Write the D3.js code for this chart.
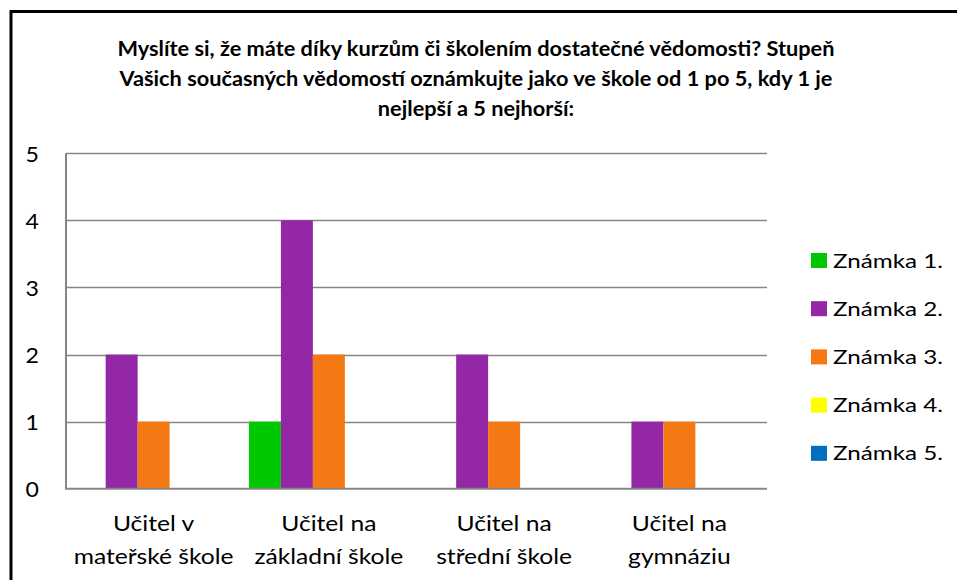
<!DOCTYPE html>
<html>
<head>
<meta charset="utf-8">
<script src="https://cdn.jsdelivr.net/npm/d3@7"></script>
<style>
  html, body { margin: 0; padding: 0; background: #fff; }
  svg { display: block; }
  text { font-family: Lato, "Open Sans", sans-serif; fill: #000; }
</style>
</head>
<body>
<svg id="chart" width="957" height="580"></svg>
<script>
// ---- data ----
const titleLines = [
  "Myslíte si, že máte díky kurzům či školením dostatečné vědomosti? Stupeň",
  "Vašich současných vědomostí oznámkujte jako ve škole od 1 po 5, kdy 1 je",
  "nejlepší a 5 nejhorší:"
];
const categories = [
  ["Učitel v", "mateřské škole"],
  ["Učitel na", "základní škole"],
  ["Učitel na", "střední škole"],
  ["Učitel na", "gymnáziu"]
];
const seriesNames = ["Známka 1.", "Známka 2.", "Známka 3.", "Známka 4.", "Známka 5."];
const znamka1 = [0, 1, 0, 0];
const znamka2 = [2, 4, 2, 1];
const znamka3 = [1, 2, 1, 1];
const znamka4 = [0, 0, 0, 0];
const znamka5 = [0, 0, 0, 0];
const seriesValues = [znamka1, znamka2, znamka3, znamka4, znamka5];
const seriesColors = ["#00C800", "#9427A6", "#F47915", "#FFFF00", "#0070C0"];
const yTicks = [0, 1, 2, 3, 4, 5];

// ---- layout ----
const svg = d3.select("#chart");
const plot = { left: 66, right: 767, top: 153.3, bottom: 488.7 };

// stretch helper: widen text horizontally to mimic the reference rendering
function stretch(sel, k) {
  sel.each(function () {
    const len = this.getComputedTextLength();
    d3.select(this).attr("textLength", len * k).attr("lengthAdjust", "spacingAndGlyphs");
  });
}

// frame
svg.append("path")
  .attr("d", "M11,580 V11.5 H957")
  .attr("fill", "none").attr("stroke", "#000").attr("stroke-width", 3);

// title
const title = svg.append("g").attr("class", "title");
title.selectAll("text").data(titleLines).join("text")
  .attr("x", 476).attr("y", (d, i) => 56 + i * 30)
  .attr("text-anchor", "middle")
  .attr("font-weight", "bold").attr("font-size", 20)
  .text(d => d);
{
  const first = title.select("text").node().getComputedTextLength();
  stretch(title.selectAll("text"), 717 / first);
}

// scales
const x = d3.scaleBand().domain(d3.range(categories.length))
  .range([plot.left, plot.right]).paddingInner(0).paddingOuter(0);
const xs = d3.scaleBand().domain(d3.range(seriesNames.length))
  .range([0, x.bandwidth()]).paddingInner(0).paddingOuter(0.24);
const y = d3.scaleLinear().domain([0, 5]).range([plot.bottom, plot.top]);

// gridlines
svg.append("g").selectAll("line").data(yTicks.filter(t => t > 0)).join("line")
  .attr("x1", plot.left).attr("x2", plot.right)
  .attr("y1", d => Math.round(y(d)) + 0.5).attr("y2", d => Math.round(y(d)) + 0.5)
  .attr("stroke", "#868686").attr("stroke-width", 1.5);

// bars
const groups = svg.append("g").selectAll("g").data(seriesValues).join("g")
  .attr("fill", (d, i) => seriesColors[i]);
groups.each(function (vals, si) {
  d3.select(this).selectAll("rect").data(vals).join("rect")
    .attr("x", (d, ci) => x(ci) + xs(si))
    .attr("width", xs.bandwidth())
    .attr("y", d => y(d))
    .attr("height", d => y(0) - y(d));
});

// axes lines
svg.append("line")
  .attr("x1", plot.left).attr("x2", plot.left)
  .attr("y1", plot.top).attr("y2", plot.bottom)
  .attr("stroke", "#868686").attr("stroke-width", 2);
svg.append("line")
  .attr("x1", plot.left - 1).attr("x2", plot.right)
  .attr("y1", y(0)).attr("y2", y(0))
  .attr("stroke", "#868686").attr("stroke-width", 2);

// y tick labels
const yl = svg.append("g").selectAll("text").data(yTicks).join("text")
  .attr("x", 39).attr("y", d => y(d) + 8.5)
  .attr("text-anchor", "end").attr("font-size", 21)
  .text(d => d);
stretch(yl, 1.1);

// category labels
const cat = svg.append("g").selectAll("g").data(categories).join("g");
cat.selectAll("text").data(d => d).join("text")
  .attr("x", function () { const ci = categories.indexOf(d3.select(this.parentNode).datum()); return x(ci) + x.bandwidth() / 2; })
  .attr("y", (d, i) => 531 + i * 33)
  .attr("text-anchor", "middle").attr("font-size", 21)
  .text(d => d);
{
  const refNode = cat.selectAll("text").filter(d => d === "mateřské škole").node();
  const k = 160 / refNode.getComputedTextLength();
  stretch(cat.selectAll("text"), k);
}

// legend
const leg = svg.append("g").selectAll("g").data(seriesNames).join("g")
  .attr("transform", (d, i) => `translate(811, ${253 + i * 48.2})`);
leg.append("rect").attr("width", 16).attr("height", 15)
  .attr("fill", (d, i) => seriesColors[i]);
const legText = leg.append("text").attr("x", 22).attr("y", 14.5)
  .attr("font-size", 20).text(d => d);
{
  const k = 110 / legText.node().getComputedTextLength();
  stretch(legText, k);
}
</script>
</body>
</html>
